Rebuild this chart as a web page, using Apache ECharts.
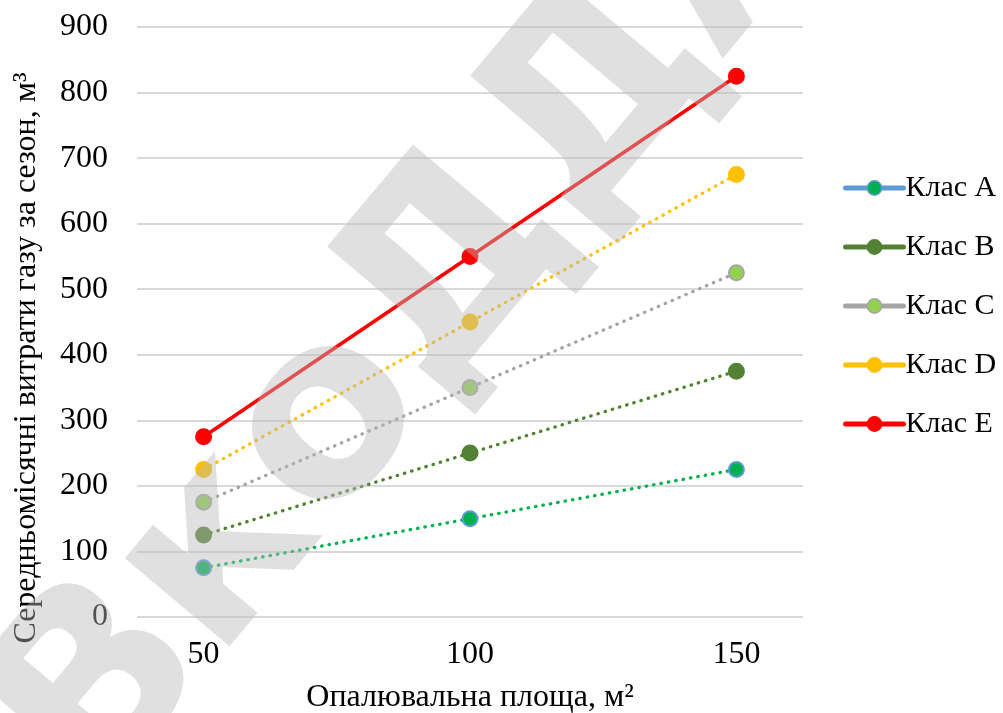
<!DOCTYPE html>
<html>
<head>
<meta charset="utf-8">
<script src="https://cdn.jsdelivr.net/npm/echarts@6/dist/echarts.min.js"></script>
<style>
  html, body { margin: 0; padding: 0; background: #fff; }
  #chart { width: 1003px; height: 713px; }
</style>
</head>
<body>
<div id="chart"></div>
<script>
// Heated floor area, m²
const areas = [50, 100, 150];
const xTicks = [50, 100, 150];

// Average monthly gas use per season by energy class, m³
const seriesNames = ['Клас A', 'Клас B', 'Клас C', 'Клас D', 'Клас E'];
const classA = [75, 150, 225];
const classB = [125, 250, 375];
const classC = [175, 350, 525];
const classD = [225, 450, 675];
const classE = [275, 550, 825];

const yTicks = [0, 100, 200, 300, 400, 500, 600, 700, 800, 900];

const xTitle = 'Опалювальна площа, м²';
const yTitle = 'Середньомісячні витрати газу за сезон, м³';
const stampText = 'ВкоДДА';

const FONT = '"Liberation Serif", "Times New Roman", serif';
const FS = 32;

const styles = [
  { data: classA, line: '#00B050', dotted: true,  fill: '#00B050', border: '#5B9BD5', legendLine: '#5B9BD5' },
  { data: classB, line: '#548235', dotted: true,  fill: '#548235', border: '#548235', legendLine: '#548235' },
  { data: classC, line: '#A5A5A5', dotted: true,  fill: '#92D050', border: '#A5A5A5', legendLine: '#A5A5A5' },
  { data: classD, line: '#FFC000', dotted: true,  fill: '#FFC000', border: '#FFC000', legendLine: '#FFC000' },
  { data: classE, line: '#FF0000', dotted: false, fill: '#FF0000', border: '#FF0000', legendLine: '#FF0000' }
];

const series = styles.map((s, i) => ({
  name: seriesNames[i],
  type: 'line',
  data: areas.map((a, k) => [a, s.data[k]]),
  symbol: 'circle',
  symbolSize: 15,
  lineStyle: s.dotted
    ? { color: s.line, width: 3.3, type: [0.5, 7], cap: 'round' }
    : { color: s.line, width: 3.6, type: 'solid' },
  itemStyle: { color: s.fill, borderColor: s.border, borderWidth: 2 },
  emphasis: { disabled: true },
  z: 3
}));

const legendData = styles.map((s, i) => ({
  name: seriesNames[i],
  itemStyle: { color: s.fill, borderColor: s.border, borderWidth: 1.5 },
  lineStyle: { color: s.legendLine, width: 5, type: 'solid', cap: 'round' }
}));

const chart = echarts.init(document.getElementById('chart'), null, { renderer: 'canvas' });
chart.setOption({
  animation: false,
  backgroundColor: '#ffffff',
  grid: { left: 137, right: 200, top: 27, bottom: 96, containLabel: false },
  xAxis: {
    type: 'value',
    min: 37.5,
    max: 162.5,
    axisLine: { show: false },
    axisTick: { show: false },
    splitLine: { show: false },
    axisLabel: {
      customValues: xTicks,
      fontFamily: FONT, fontSize: FS, color: '#000', margin: 22
    }
  },
  yAxis: {
    type: 'value',
    min: 0,
    max: 900,
    interval: 100,
    axisLine: { show: false },
    axisTick: { show: false },
    splitLine: { lineStyle: { color: '#D9D9D9', width: 2 } },
    axisLabel: {
      customValues: yTicks,
      fontFamily: FONT, fontSize: FS, color: '#000', margin: 29
    }
  },
  legend: {
    orient: 'vertical',
    left: 838,
    top: 167,
    padding: 5,
    itemWidth: 58,
    itemHeight: 18,
    itemGap: 27,
    textStyle: { fontFamily: FONT, fontSize: 30, lineHeight: 32, color: '#000', padding: [0, 0, 0, -3] },
    data: legendData
  },
  graphic: [
    {
      type: 'text',
      silent: true,
      x: 470,
      y: 698,
      style: {
        text: xTitle, fontFamily: FONT, fontSize: FS, fill: '#000',
        align: 'center', verticalAlign: 'middle'
      }
    },
    {
      type: 'text',
      silent: true,
      x: 27,
      y: 358,
      rotation: Math.PI / 2,
      style: {
        text: yTitle, fontFamily: FONT, fontSize: FS, fill: '#000',
        align: 'center', verticalAlign: 'middle'
      }
    },
    {
      // translucent diagonal stamp over the whole chart
      type: 'text',
      silent: true,
      z: 100,
      x: 420,
      y: 318,
      rotation: 50 * Math.PI / 180,
      style: {
        text: stampText,
        fontFamily: '"DejaVu Sans", sans-serif',
        fontWeight: 'bold',
        fontSize: 250,
        fill: 'rgba(184,184,184,0.44)',
        align: 'center',
        verticalAlign: 'middle'
      }
    }
  ],
  series: series
});
</script>
</body>
</html>
